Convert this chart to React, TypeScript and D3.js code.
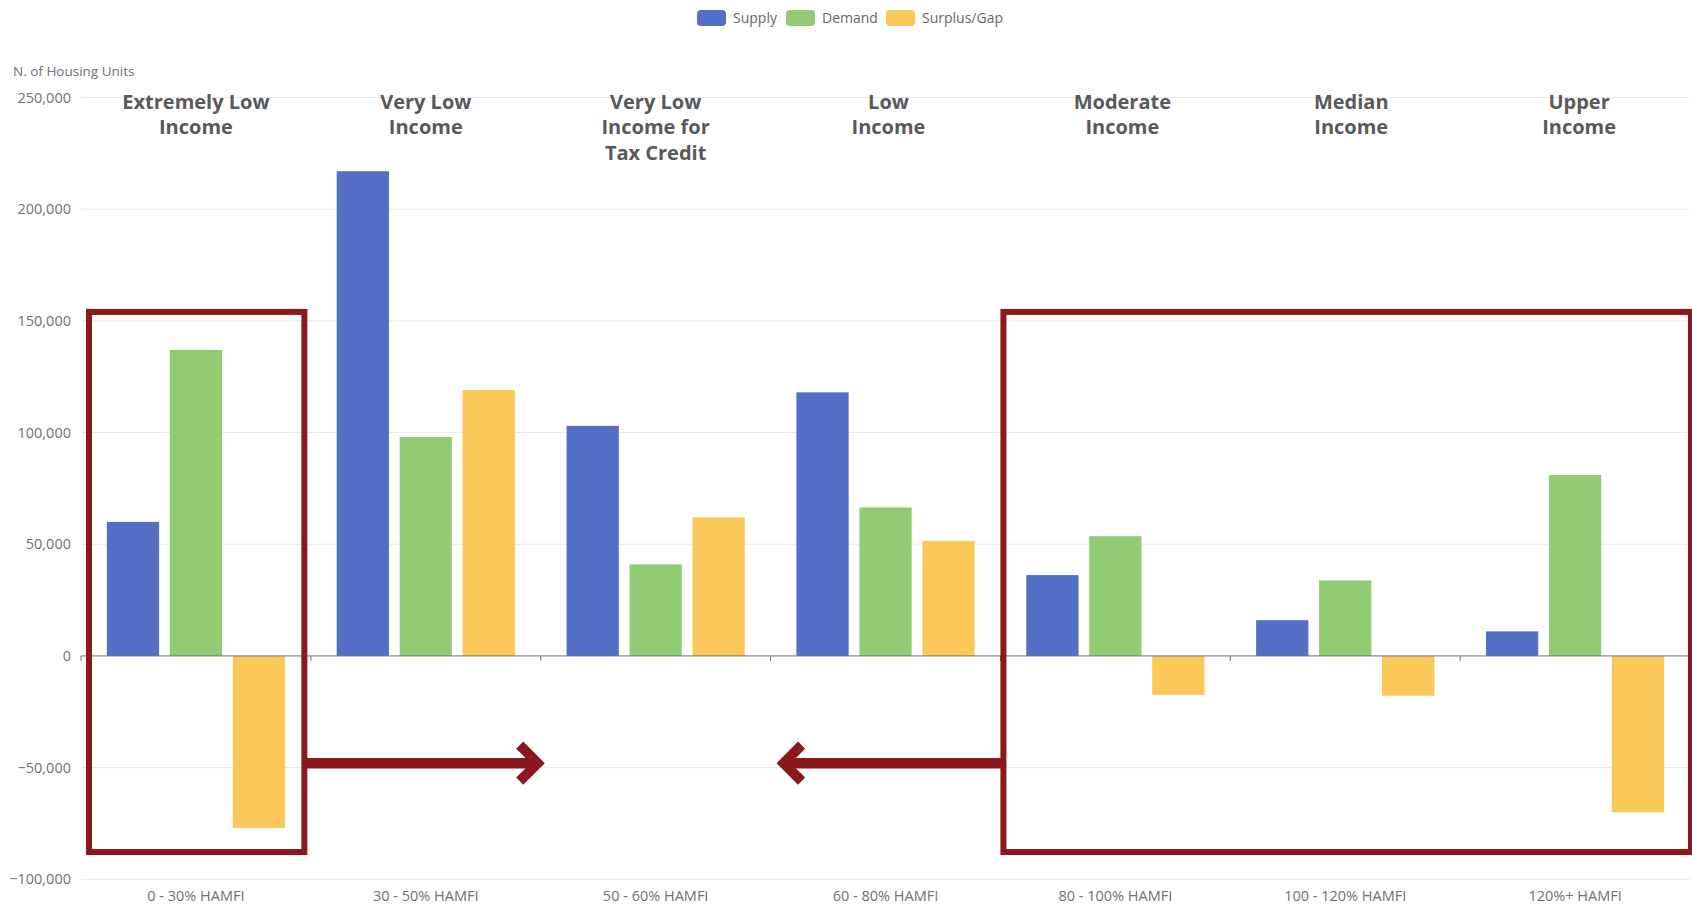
import React from 'react';
import * as d3 from 'd3';

const categories = ['0 - 30% HAMFI', '30 - 50% HAMFI', '50 - 60% HAMFI', '60 - 80% HAMFI', '80 - 100% HAMFI', '100 - 120% HAMFI', '120%+ HAMFI'];
const incomeTitles = [
  ['Extremely Low', 'Income'],
  ['Very Low', 'Income'],
  ['Very Low', 'Income for', 'Tax Credit'],
  ['Low', 'Income'],
  ['Moderate', 'Income'],
  ['Median', 'Income'],
  ['Upper', 'Income'],
];
const seriesNames = ['Supply', 'Demand', 'Surplus/Gap'];
const supply = [60000, 217000, 103000, 118000, 36200, 16000, 11000];
const demand = [137000, 98000, 41000, 66500, 53600, 33800, 81000];
const surplus = [-77000, 119000, 62000, 51500, -17400, -17800, -70000];
const yTicks = [-100000, -50000, 0, 50000, 100000, 150000, 200000, 250000];

const colors = ['#5470c6', '#91cc75', '#fac858'];
const RED = '#8a181c';
// small manual nudges of the hand-placed title annotations
const titleNudge = [0, 0, 0, 3, 7, 6, 4];

export default function App() {
  const W = 1692, H = 905;
  const left = 81, right = 1690, top = 97.5, bottom = 879.3;
  const x = d3.scaleBand<string>().domain(categories).range([left, right]).padding(0);
  const x1 = d3.scaleBand<string>().domain(seriesNames).range([0, x.bandwidth()]).paddingInner(0.17).paddingOuter(0.41);
  const y = d3.scaleLinear().domain([-100000, 250000]).range([bottom, top]);
  const values = [supply, demand, surplus];
  const fmt = d3.format(',');
  const y0 = y(0);

  const boxTop = y(154000);
  const boxBot = y(-87800);
  const b1l = x(categories[0])! + 8;
  const b1r = x(categories[0])! + x.bandwidth() - 6.5;
  const b2l = x(categories[4])! + 3;
  const b2r = right + 1;
  const arrowY = y(-48000);
  const tip1 = x(categories[2])! + 4;
  const tip2 = x(categories[3])! + 6;

  const legendX = [697, 786, 886];

  return (
    <svg width={W} height={H} style={{ position: 'absolute', left: 0, top: 0, background: '#fff' }}
      fontFamily="'Open Sans', 'Noto Sans', sans-serif">
      {seriesNames.map((s, i) => (
        <g key={s}>
          <rect x={legendX[i]} y={10} width={29} height={16} rx={4} fill={colors[i]} />
          <text x={legendX[i] + 36} y={18} dy="0.35em" fontSize={14} fill="#666">{s}</text>
        </g>
      ))}
      <text x={13} y={71} dy="0.35em" fontSize={13.5} fill="#6e7079">N. of Housing Units</text>
      {yTicks.map(t => (
        <g key={t}>
          {t !== 0 && <line x1={left} x2={right} y1={y(t)} y2={y(t)} stroke="#e6e9f0" strokeWidth={1} />}
          <text x={71} y={y(t)} dy="0.35em" textAnchor="end" fontSize={14.5} fill="#6e7079">{fmt(t)}</text>
        </g>
      ))}
      {categories.map((c, ci) => (
        <g key={c} transform={`translate(${x(c)},0)`}>
          {values.map((vals, si) => {
            const v = vals[ci];
            return (
              <rect key={si} x={x1(seriesNames[si])} width={x1.bandwidth()}
                y={Math.min(y(v), y0)} height={Math.abs(y(v) - y0)} fill={colors[si]} />
            );
          })}
        </g>
      ))}
      <line x1={left} x2={right} y1={y0} y2={y0} stroke="#6e7079" strokeWidth={1} />
      {categories.map(c => (
        <line key={c} x1={x(c)!} x2={x(c)!} y1={y0} y2={y0 + 5} stroke="#6e7079" />
      ))}
      <line x1={right} x2={right} y1={y0} y2={y0 + 5} stroke="#6e7079" />
      {categories.map(c => (
        <text key={c} x={x(c)! + x.bandwidth() / 2} y={896} dy="0.35em" textAnchor="middle" fontSize={14.5} fill="#6e7079">{c}</text>
      ))}
      {incomeTitles.map((lines, i) => {
        const cx = x(categories[i])! + x.bandwidth() / 2 + titleNudge[i];
        return (
          <text key={i} x={cx} textAnchor="middle" fontSize={20} fontWeight={700} fill="#595959">
            {lines.map((l, j) => (
              <tspan key={j} x={cx} y={109 + j * 25.3}>{l}</tspan>
            ))}
          </text>
        );
      })}
      <rect x={b1l} y={boxTop} width={b1r - b1l} height={boxBot - boxTop} fill="none" stroke={RED} strokeWidth={6} />
      <rect x={b2l} y={boxTop} width={b2r - b2l} height={boxBot - boxTop} fill="none" stroke={RED} strokeWidth={6} />
      <line x1={b1r} x2={tip1 - 6} y1={arrowY} y2={arrowY} stroke={RED} strokeWidth={10.5} />
      <polyline points={`${tip1 - 25},${arrowY - 18} ${tip1 - 7},${arrowY} ${tip1 - 25},${arrowY + 18}`} fill="none" stroke={RED} strokeWidth={10} strokeLinejoin="miter" />
      <line x1={b2l} x2={tip2 + 6} y1={arrowY} y2={arrowY} stroke={RED} strokeWidth={10.5} />
      <polyline points={`${tip2 + 25},${arrowY - 18} ${tip2 + 7},${arrowY} ${tip2 + 25},${arrowY + 18}`} fill="none" stroke={RED} strokeWidth={10} strokeLinejoin="miter" />
    </svg>
  );
}
